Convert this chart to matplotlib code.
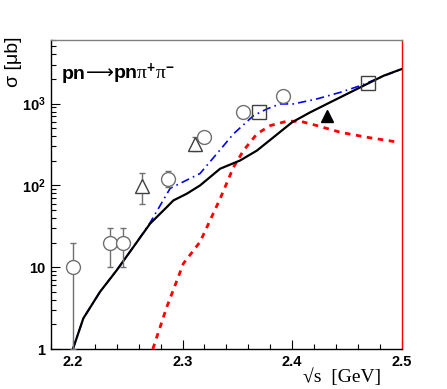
import matplotlib
matplotlib.use("Agg")
import matplotlib.pyplot as plt
from matplotlib.ticker import FixedLocator, NullFormatter
from matplotlib.offsetbox import TextArea, HPacker, AnchoredOffsetbox
import numpy as np

plt.rcParams["font.family"] = ["Liberation Sans", "DejaVu Sans"]
plt.rcParams["mathtext.fontset"] = "custom"
plt.rcParams["mathtext.rm"] = "Liberation Serif"
plt.rcParams["mathtext.it"] = "Liberation Serif:italic"
plt.rcParams["mathtext.bf"] = "Liberation Sans:bold"

# ── curves ────────────────────────────────────────────────────────────────────
full_x = [2.200, 2.2095, 2.2247, 2.240, 2.2552, 2.2704, 2.2857, 2.2917, 2.3039,
          2.316, 2.3343, 2.3526, 2.3679, 2.383, 2.400, 2.4165, 2.4378, 2.453,
          2.4683, 2.4835, 2.500]
full_y = [1.0, 2.37, 5.0, 9.2, 17.7, 34.1, 54.4, 65.6, 79.2,
          100, 160, 202, 267, 388, 592, 783, 1088, 1374,
          1738, 2195, 2650]

alt_x = [2.200, 2.2095, 2.2247, 2.240, 2.2552, 2.2704, 2.2887, 2.316, 2.3313,
         2.3465, 2.3648, 2.377, 2.3891, 2.4013, 2.4226, 2.4439, 2.4622, 2.4805,
         2.500]
alt_y = [1.0, 2.37, 5.0, 9.2, 17.7, 35.0, 92, 140, 244,
         427, 714, 861, 992, 992, 1141, 1374, 1658, 2093,
         2650]

res_x = [2.2729, 2.2857, 2.3008, 2.316, 2.3343, 2.3465, 2.3556, 2.3679, 2.380,
         2.3952, 2.4074, 2.4226, 2.4439, 2.4683, 2.4972]
res_y = [1.0, 3.28, 11.1, 20.4, 68.8, 167, 267, 427, 539,
         609, 609, 539, 447, 388, 337]

# ── data points ───────────────────────────────────────────────────────────────
circ_x = [2.200, 2.2339, 2.2460, 2.2871, 2.3197, 2.3556, 2.3916]
circ_y = [10, 20, 20, 121, 388, 783, 1252]
circ_lo = [1.0, 10, 10, 95, 388, 783, 1252]
circ_hi = [20, 30, 30, 149, 388, 783, 1252]

tri_x = [2.2628, 2.3115]
tri_y = [98, 323]
tri_lo = [60, 262]
tri_hi = [141, 396]

sq_x = [2.370, 2.4689]
sq_y = [783, 1769]

ftri_x = [2.4318]
ftri_y = [714]

fig = plt.figure(figsize=(4.47, 3.89), dpi=100)
ax = fig.add_axes([0.1141, 0.1028, 0.7846, 0.7944])

ax.plot(full_x, full_y, color="black", lw=1.6, zorder=4)
ax.plot(alt_x, alt_y, color="blue", lw=1.2, ls=(0, (5, 2.5, 1, 2.5)), zorder=3)
ax.plot(res_x, res_y, color="red", lw=2.0, ls=(0, (2, 2)), zorder=3)

grey = "#707070"
ax.errorbar(circ_x, circ_y,
            yerr=[np.array(circ_y) - np.array(circ_lo), np.array(circ_hi) - np.array(circ_y)],
            fmt="o", ms=10, mfc="white", mec=grey, mew=1.0, ecolor=grey,
            elinewidth=1.0, capsize=2.5, zorder=5)
ax.errorbar(tri_x, tri_y,
            yerr=[np.array(tri_y) - np.array(tri_lo), np.array(tri_hi) - np.array(tri_y)],
            fmt="^", ms=10, mfc="white", mec="#404040", mew=1.0, ecolor=grey,
            elinewidth=1.0, capsize=2.5, zorder=5)
ax.plot(sq_x, sq_y, "s", ms=10, mfc="none", mec="#404040", mew=1.0, zorder=5)
ax.plot(ftri_x, ftri_y, "^", ms=9, color="black", zorder=5)

ax.set_yscale("log")
ax.set_xlim(2.18, 2.5)
ax.set_ylim(1, 6000)

ax.set_xticks([2.2, 2.3, 2.4, 2.5])
ax.set_xticklabels(["2.2", "2.3", "2.4", "2.5"], fontweight="bold", fontsize=10.5)
ax.xaxis.set_minor_locator(FixedLocator(np.arange(2.18, 2.501, 0.02)))
ax.set_yticks([1, 10, 100, 1000])
ax.set_yticklabels(["1", "10", r"$\mathbf{10^{2}}$", r"$\mathbf{10^{3}}$"],
                   fontweight="bold", fontsize=10.5)
ax.yaxis.set_minor_formatter(NullFormatter())

ax.tick_params(axis="both", which="major", direction="in", length=6.5, width=0.8,
               pad=4)
ax.tick_params(axis="both", which="minor", direction="in", length=3.5, width=0.8)
ax.tick_params(axis="x", which="both", top=False)
ax.tick_params(axis="y", which="both", right=False)

ax.spines["top"].set_color("#808080")
ax.spines["right"].set_color("red")
ax.spines["left"].set_color("black")
ax.spines["bottom"].set_color("black")
for s in ax.spines.values():
    s.set_linewidth(1.0)

# reaction label, built from pieces so the arrow can be a long one
bold = dict(fontsize=14, fontweight="bold")
parts = [
    TextArea("pn", textprops=bold),
    TextArea("⟶", textprops=dict(fontsize=14, family=["DejaVu Sans"])),
    TextArea(r"pn$\mathrm{\pi}^{\mathbf{+}}\mathrm{\pi}^{\mathbf{-}}$", textprops=bold),
]
title = HPacker(children=parts, align="baseline", pad=0, sep=0)
ax.add_artist(AnchoredOffsetbox(loc="upper left", child=title, frameon=False,
                                pad=0, borderpad=0,
                                bbox_to_anchor=(0.03, 0.93),
                                bbox_transform=ax.transAxes))

fig.text(0.03, 0.84, "σ [μb]", rotation=90, fontsize=14,
         ha="center", va="center")
fig.text(0.765, 0.03, "√s  [GeV]", fontsize=14, ha="center", va="center",
         family=["Liberation Serif", "DejaVu Serif"])

fig.savefig("out.png", dpi=100)
